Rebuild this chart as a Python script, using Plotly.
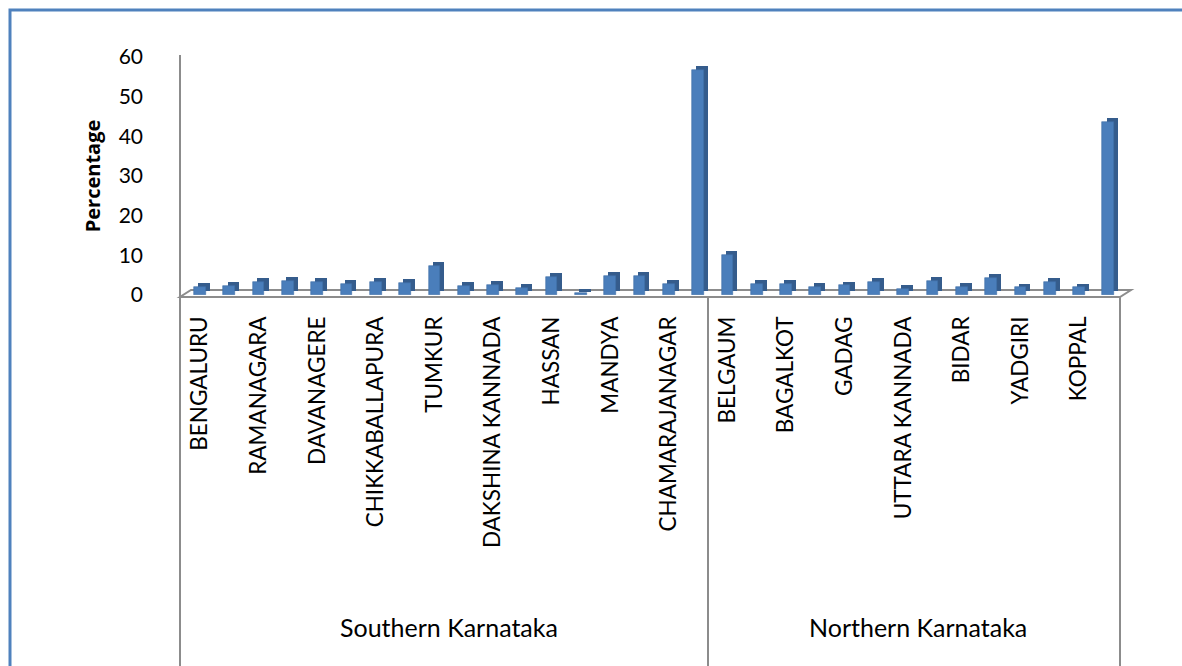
import plotly.graph_objects as go

# ---------------- data ----------------
regions = ["Southern Karnataka", "Northern Karnataka"]
southern_districts = [
    "BENGALURU", "BENGALURU RURAL", "RAMANAGARA", "CHITRADURGA", "DAVANAGERE",
    "KOLAR", "CHIKKABALLAPURA", "SHIMOGA", "TUMKUR", "UDUPI",
    "DAKSHINA KANNADA", "CHIKMAGALUR", "HASSAN", "KODAGU", "MANDYA",
    "MYSORE", "CHAMARAJANAGAR", "TOTAL",
]
southern_values = [2.1, 2.3, 3.2, 3.6, 3.4, 2.9, 3.4, 3.1, 7.3, 2.3,
                   2.5, 1.8, 4.6, 0.5, 4.8, 4.8, 2.7, 56.7]
northern_districts = [
    "BELGAUM", "BIJAPUR", "BAGALKOT", "DHARWAD", "GADAG", "HAVERI",
    "UTTARA KANNADA", "GULBARGA", "BIDAR", "RAICHUR", "YADGIRI",
    "BELLARY", "KOPPAL", "TOTAL",
]
northern_values = [10.0, 2.7, 2.8, 2.1, 2.4, 3.2, 1.6, 3.6, 2.0, 4.4,
                   1.9, 3.4, 1.9, 43.5]
# only every other category name is printed on the axis (as in the original)
shown_southern = ["BENGALURU", "RAMANAGARA", "DAVANAGERE", "CHIKKABALLAPURA",
                  "TUMKUR", "DAKSHINA KANNADA", "HASSAN", "MANDYA", "CHAMARAJANAGAR"]
shown_northern = ["BELGAUM", "BAGALKOT", "GADAG", "UTTARA KANNADA", "BIDAR",
                  "YADGIRI", "KOPPAL"]
y_ticks = [0, 10, 20, 30, 40, 50, 60]
y_title = "Percentage"

# ---------------- build ----------------
names = southern_districts + northern_districts
values = southern_values + northern_values
xs = list(range(len(names)))
tickvals = [names.index(n) for n in shown_southern] + \
           [len(southern_districts) + northern_districts.index(n) for n in shown_northern]
ticktext = shown_southern + shown_northern

W, H = 1182, 666
L, R, T, B = 180, 1120, 57, 295      # plot area in pixels
FONT = "Lato"


def px(x):
    return (x - L) / (R - L)


def py(y):
    return (B - y) / (B - T)


BAR_W = 0.40
DX, DY = 0.14, 1.0

fig = go.Figure()
# depth (side/top) of pseudo-3D columns
fig.add_trace(go.Bar(
    x=xs, y=values, base=DY, width=BAR_W, offset=-BAR_W / 2 + DX,
    marker=dict(color="#355C8C", line=dict(width=0)),
    hoverinfo="skip", showlegend=False,
))
# front faces
fig.add_trace(go.Bar(
    x=xs, y=values, width=BAR_W, offset=-BAR_W / 2,
    marker=dict(color="#4A7EBB", line=dict(width=0.6, color="#3F6EA6")),
    customdata=names, hovertemplate="%{customdata}: %{y}<extra></extra>",
    showlegend=False,
))

grey = "#8C8C8C"
shapes = []
# floor of the 3D plot
shapes.append(dict(type="path", xref="paper", yref="paper",
                   path=f"M {px(180)},{py(297)} L {px(1120)},{py(297)} L {px(1131)},{py(290)} "
                        f"L {px(191)},{py(290)} Z",
                   line=dict(color=grey, width=2), fillcolor="rgba(0,0,0,0)", layer="below"))
# vertical axis line and group dividers
for x0, ytop in [(180, 55), (708, 297), (1120, 297)]:
    shapes.append(dict(type="line", xref="paper", yref="paper",
                       x0=px(x0), x1=px(x0), y0=py(ytop), y1=py(H + 5),
                       line=dict(color=grey, width=2)))
# outer blue frame of chart area
shapes.append(dict(type="rect", xref="paper", yref="paper",
                   x0=px(10), x1=px(W + 20), y0=py(10), y1=py(H + 20),
                   line=dict(color="#4F81BD", width=3), fillcolor="rgba(0,0,0,0)"))

n_s = len(southern_districts)
n_n = len(northern_districts)
annotations = [
    dict(text=regions[0], x=(n_s - 1) / 2, xref="x", y=py(627), yref="paper",
         yanchor="middle", showarrow=False, font=dict(family=FONT, size=25, color="black")),
    dict(text=regions[1], x=n_s + (n_n - 1) / 2, xref="x", y=py(627), yref="paper",
         yanchor="middle", showarrow=False, font=dict(family=FONT, size=25, color="black")),
]

x_lo = (L - 200) / 29.3
x_hi = (R - 200) / 29.3

fig.update_layout(
    width=W, height=H,
    margin=dict(l=L, r=W - R, t=T, b=H - B, autoexpand=False),
    paper_bgcolor="white", plot_bgcolor="white",
    bargap=0, barmode="overlay",
    font=dict(family=FONT, color="black"),
    xaxis=dict(range=[x_lo, x_hi], tickmode="array", tickvals=tickvals, ticktext=ticktext,
               tickangle=-90, tickfont=dict(family=FONT, size=22.5, color="black"),
               showgrid=False, zeroline=False, showline=False, ticks="",
               ticklabelstandoff=16, automargin=False),
    yaxis=dict(range=[0, 60], tickmode="array", tickvals=y_ticks,
               tickfont=dict(family=FONT, size=21, color="black"),
               showgrid=False, zeroline=False, showline=False, ticks="",
               ticklabelstandoff=36, automargin=False,
               title=dict(text=f"<b>{y_title}</b>", standoff=12,
                          font=dict(family="Open Sans", size=20, color="black"))),
    shapes=shapes, annotations=annotations,
)

fig.write_html("out.html", config={"displayModeBar": False},
               post_script="document.body.style.margin='0';")
